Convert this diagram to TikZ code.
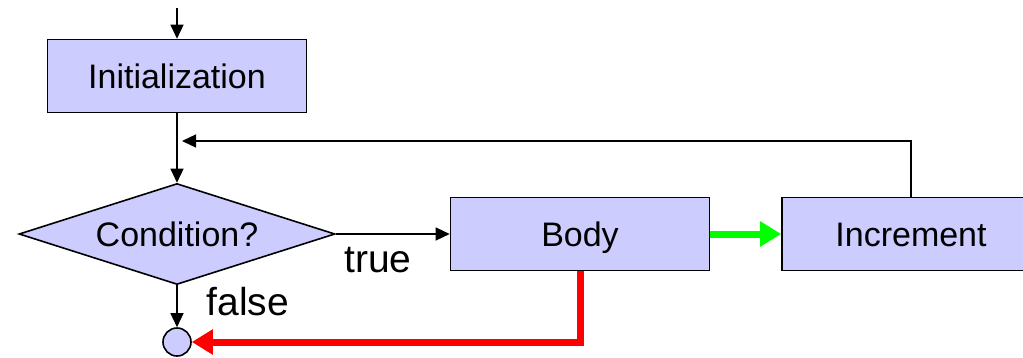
\documentclass[tikz,border=0pt]{standalone}
\usepackage{fontspec}
\setmainfont{Liberation Sans}
\usetikzlibrary{shapes.geometric,arrows.meta}
\definecolor{boxfill}{RGB}{204,204,255}
\begin{document}
\begin{tikzpicture}
	% flowchart of a for loop: init, test, body, increment
	[x=1pt,y=-1pt,font=\fontsize{34}{40}\selectfont,
	 box/.style={rectangle,draw,line width=1.6pt,fill=boxfill,minimum width=259pt,minimum height=73pt,inner sep=0pt,text height=24.4pt,text depth=0pt},
	 test/.style={diamond,draw,line width=1.6pt,fill=boxfill,aspect=3.13,minimum width=316pt,minimum height=101pt,inner sep=0pt},
	 stop/.style={circle,draw,line width=1.6pt,fill=boxfill,minimum size=28pt,inner sep=0pt},
	 flow/.style={line width=1.3pt,-{Triangle[length=14pt,width=13pt]}},
	 fat/.style={line width=7pt,-{Triangle[length=21pt,width=24pt]}},
	 label/.style={font=\fontsize{39}{44}\selectfont}]
	\useasboundingbox (0,0) rectangle (1023,357);

	\coordinate (start) at (177,8);
	\node[box] (init) at (177,76) {Initialization};
	\node[test] (cond) at (177,234) {Condition?};
	\node[box] (body) at (580,234) {Body};
	\node[box,minimum width=258pt] (inc) at (911,234) {Increment};
	\node[stop] (end) at (177,342) {};
	\coordinate (join) at (177,141);

	\draw[flow] (start) -- (init);
	\draw[flow] (init) -- (cond);
	\draw[flow] (inc.north) |- ([xshift=5pt]join);
	\draw[flow] (cond.east) -- (body.west);
	\draw[flow] (cond.south) -- (end);
	\draw[fat,green] (body.east) -- (inc.west);
	\draw[fat,red] (body.south) |- (end.east);

	\node[label] (yes) at (378,260) {true};
	\node[label] (no) at (248,302) {false};
\end{tikzpicture}
\end{document}
